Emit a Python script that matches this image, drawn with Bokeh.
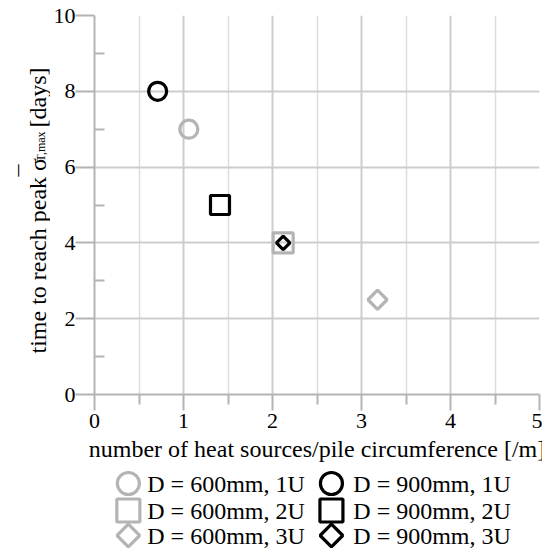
import math
from bokeh.plotting import figure
from bokeh.models import Range1d, FixedTicker, Label
from bokeh.layouts import column, row
from bokeh.embed import file_html
from bokeh.resources import INLINE
from bokeh.core.properties import value

# ---- data ----
series_labels = ["D = 600mm, 1U", "D = 600mm, 2U", "D = 600mm, 3U",
                 "D = 900mm, 1U", "D = 900mm, 2U", "D = 900mm, 3U"]
heat_sources_per_m = [1.06, 2.12, 3.18, 0.71, 1.41, 2.12]
days_to_peak = [7.0, 4.0, 2.5, 8.0, 5.0, 4.0]
x_ticks = [0, 1, 2, 3, 4, 5]
y_ticks = [0, 2, 4, 6, 8, 10]
x_title = "number of heat sources/pile circumference [/m]"
y_title_parts = ["time to reach peak σ", "¯", "T,max", "[days]"]

# ---- styles ----
GRAY = "#b4b4b4"
BLACK = "#000000"
FONT = "Liberation Serif"
marker_kind = ["circle", "square", "square", "circle", "square", "square"]
marker_angle = [0, 0, math.pi / 4, 0, 0, math.pi / 4]
marker_color = [GRAY, GRAY, GRAY, BLACK, BLACK, BLACK]
plot_size = [18, 20, 13.5, 18, 19, 9.5]
legend_size = [22, 23, 16, 22, 23, 16]

W, H = 542, 549
YT_W = 50                 # strip holding the vertical title
YT_OFF = 9                # frame inset of the title strip (keeps descenders visible)
MAIN_H = 468
LEG_H = H - MAIN_H
FL, FR, FT, FB = 92, 539, 15, 394   # frame edges in page pixels

# ---- main plot ----
p = figure(width=W - YT_W, height=MAIN_H, output_backend="svg", toolbar_location=None,
           x_range=Range1d(0, 5), y_range=Range1d(0, 10),
           min_border_left=FL - YT_W, min_border_right=W - FR, min_border_top=FT,
           min_border_bottom=MAIN_H - FB)
p.outline_line_color = None

for ax in (p.xaxis[0], p.yaxis[0]):
    ax.axis_line_color = GRAY
    ax.axis_line_width = 2
    ax.major_tick_line_color = GRAY
    ax.major_tick_line_width = 2
    ax.minor_tick_line_color = GRAY
    ax.minor_tick_line_width = 2
    ax.major_label_text_font = FONT
    ax.major_label_text_font_size = "22px"
    ax.major_label_text_color = "black"

p.xaxis[0].ticker = FixedTicker(ticks=x_ticks, minor_ticks=[t + 0.5 for t in x_ticks[:-1]])
p.yaxis[0].ticker = FixedTicker(ticks=y_ticks, minor_ticks=[t + 1 for t in y_ticks[:-1]])
p.xaxis[0].major_tick_in = 0
p.xaxis[0].major_tick_out = 16
p.xaxis[0].minor_tick_in = 0
p.xaxis[0].minor_tick_out = 10
p.xaxis[0].major_label_standoff = 3
p.xaxis[0].axis_label = x_title
p.xaxis[0].axis_label_text_font = FONT
p.xaxis[0].axis_label_text_font_size = "24px"
p.xaxis[0].axis_label_text_font_style = "normal"
p.xaxis[0].axis_label_text_color = "black"
p.xaxis[0].axis_label_standoff = 5
p.yaxis[0].major_tick_in = 0
p.yaxis[0].major_tick_out = 19
p.yaxis[0].minor_tick_in = 10
p.yaxis[0].minor_tick_out = 0
p.yaxis[0].major_label_standoff = 0

p.xgrid[0].grid_line_color = "#cdcdcd"
p.xgrid[0].grid_line_width = 2
p.xgrid[0].minor_grid_line_color = "#dcdcdc"
p.xgrid[0].minor_grid_line_width = 1.5
p.ygrid[0].grid_line_color = "#cdcdcd"
p.ygrid[0].grid_line_width = 2

for i in range(len(series_labels)):
    p.scatter([heat_sources_per_m[i]], [days_to_peak[i]], marker=marker_kind[i],
              size=plot_size[i], angle=marker_angle[i], fill_color=None,
              line_color=marker_color[i], line_width=3.2)

# ---- vertical title strip ----
yt = figure(width=YT_W, height=H, output_backend="svg", toolbar_location=None,
            x_range=Range1d(0, 1), y_range=Range1d(0, 1),
            x_axis_location=None, y_axis_location=None,
            min_border_left=0, min_border_right=0,
            min_border_top=FT, min_border_bottom=H - FB)
yt.outline_line_color = None
yt.xgrid.visible = False
yt.ygrid.visible = False
base = 46
yt_pos_x = [base, base - 10, base + 3, base]     # page pixels
yt_pos_y = [353, 176, 161, 127]                  # page pixels (start of each piece)
yt_size = ["24px", "24px", "12px", "24px"]
for t, tx, ty, fs in zip(y_title_parts, yt_pos_x, yt_pos_y, yt_size):
    yt.add_layout(Label(x=tx - YT_OFF, y=FB - ty, x_units="screen", y_units="screen",
                        text=t, angle=math.pi / 2, text_font=FONT, text_font_size=fs,
                        text_baseline="alphabetic", text_align="left", text_color="black"))

# ---- legend strip (coordinates = page pixels) ----
leg = figure(width=W - YT_W, height=LEG_H, output_backend="svg", toolbar_location=None,
             x_range=Range1d(FL, FR), y_range=Range1d(LEG_H, 0),
             x_axis_location=None, y_axis_location=None,
             min_border_left=FL - YT_W, min_border_right=W - FR,
             min_border_top=0, min_border_bottom=0)
leg.outline_line_color = None
leg.xgrid.visible = False
leg.ygrid.visible = False

col_marker_x = [126, 330]
col_text_x = [145, 352]
row_y = [15, 42, 67]
for i, lab in enumerate(series_labels):
    c, r = divmod(i, 3)
    leg.scatter([col_marker_x[c]], [row_y[r]], marker=marker_kind[i], size=legend_size[i],
                angle=marker_angle[i], fill_color=None, line_color=marker_color[i], line_width=3.2)
    leg.text([col_text_x[c]], [row_y[r]], text=[lab], text_font=value(FONT),
             text_font_size="24px", text_baseline="middle", text_align="left", text_color="black")

layout = row(yt, column(p, leg, spacing=0), spacing=0)
open("out.html", "w").write(file_html(layout, INLINE))
